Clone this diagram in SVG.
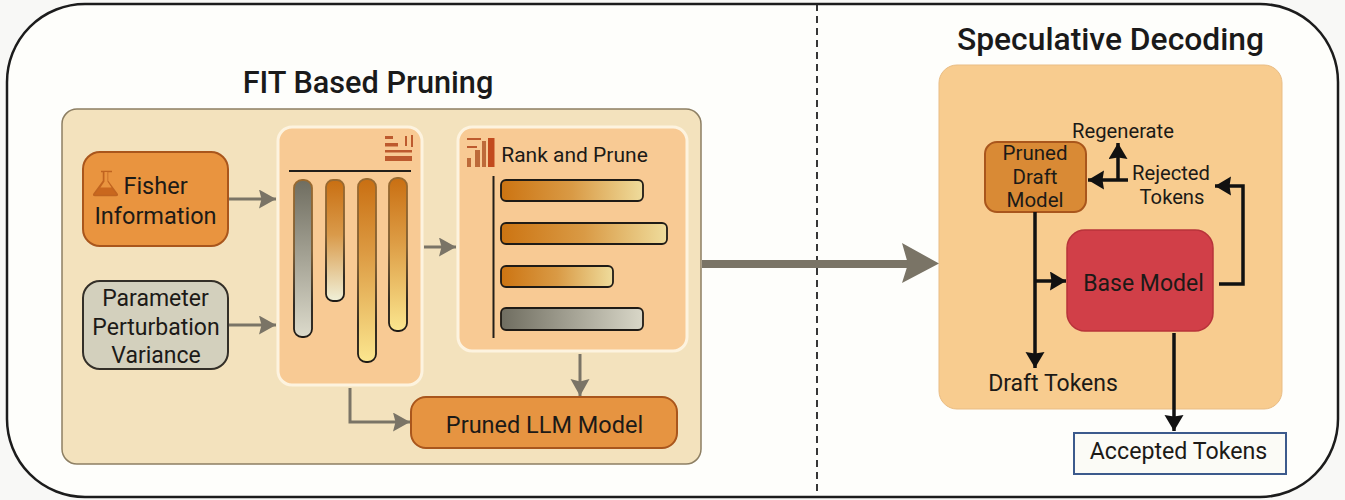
<svg xmlns="http://www.w3.org/2000/svg" width="1345" height="500" viewBox="0 0 1345 500">
<style>
text{font-family:Roboto,"Noto Sans","Liberation Sans",sans-serif;fill:#1c1a17;text-anchor:middle}
.title{font-weight:500;fill:#1a1a1a}
.t23{font-size:23px}
.t20{font-size:20.2px}
.g{fill:none;stroke:#7a7466;stroke-width:3}
.k{fill:none;stroke:#111;stroke-width:3.5}
.bar{stroke:#1f1b16;stroke-width:1.8}
.vbar{stroke:url(#vs);stroke-width:1.8}
.inner{fill:#f8ca94;stroke:#fdf3df;stroke-width:3}
</style>
<defs>
<linearGradient id="vs" x1="0" x2="0" y1="0" y2="1"><stop offset="0" stop-color="#9a6a30"/><stop offset="0.45" stop-color="#7a5a30"/><stop offset="0.8" stop-color="#1f1b16"/></linearGradient>
<linearGradient id="vo1" x1="0" x2="0" y1="0" y2="1"><stop offset="0" stop-color="#c96f12"/><stop offset="0.45" stop-color="#d99a4a"/><stop offset="1" stop-color="#f0f0d8"/></linearGradient>
<linearGradient id="vo2" x1="0" x2="0" y1="0" y2="1"><stop offset="0" stop-color="#c96f12"/><stop offset="0.4" stop-color="#dc9a42"/><stop offset="1" stop-color="#fbe68f"/></linearGradient>
<linearGradient id="vg" x1="0" x2="0" y1="0" y2="1"><stop offset="0" stop-color="#6f6d60"/><stop offset="1" stop-color="#dcdacb"/></linearGradient>
<linearGradient id="ho" x1="0" x2="1" y1="0" y2="0"><stop offset="0" stop-color="#cc7412"/><stop offset="0.5" stop-color="#d99a45"/><stop offset="1" stop-color="#efdc9c"/></linearGradient>
<linearGradient id="hg" x1="0" x2="1" y1="0" y2="0"><stop offset="0" stop-color="#6f6d60"/><stop offset="1" stop-color="#d9d7c8"/></linearGradient>
<marker id="ga" markerUnits="userSpaceOnUse" markerWidth="18" markerHeight="20" refX="17" refY="9.5" orient="auto"><path d="M0 0L17 9.5L0 19L2.500 9.5Z" fill="#7a7466"/></marker>
<marker id="ka" markerUnits="userSpaceOnUse" markerWidth="18" markerHeight="20" refX="16" refY="9.500" orient="auto"><path d="M0 0L16 9.500L0 19L1.500 9.500Z" fill="#111"/></marker>
</defs>
<rect width="1345" height="500" fill="#f8f8f6"/>
<rect x="7" y="4" width="1331" height="493" rx="78" fill="#fefefb" stroke="#1c1c1c" stroke-width="2.500"/>
<line x1="817" y1="4" x2="817" y2="496" stroke="#222" stroke-width="1.800" stroke-dasharray="7 5"/>
<text class="title" x="368" y="93" style="font-size:30.7px">FIT Based Pruning</text>
<text class="title" x="1110.500" y="50" style="font-size:31.800px">Speculative Decoding</text>

<g id="fit-panel"><rect x="62" y="109" width="639" height="355" rx="15" fill="#f3e2bd" stroke="#8d7f63" stroke-width="1.500"/></g>

<g id="fisher">
<rect x="83" y="152" width="145" height="94" rx="17" fill="#e9943f" stroke="#a9561c" stroke-width="2"/>
<path d="M101 171.500h11M103.500 172v9L94 194q-1 1.500 1 1.500h21q2 0 1-1.500l-9.500-13v-9" fill="#c9671e" stroke="#c06420" stroke-width="1.500"/>
<path d="M104.500 172v9.500l-4 6h11l-4-6V172z" fill="#e9943f"/>
<text class="t23" style="font-size:23.500px" x="155.500" y="194">Fisher</text>
<text class="t23" style="font-size:23.500px" x="155.500" y="224">Information</text>
</g>
<g id="variance">
<rect x="83" y="281" width="145" height="88" rx="17" fill="#d3d0bd" stroke="#332f28" stroke-width="2"/>
<text class="t23" x="155.500" y="306">Parameter</text>
<text class="t23" x="156" y="335">Perturbation</text>
<text class="t23" x="156" y="363">Variance</text>
</g>
<g id="bars-panel">
<rect class="inner" x="278" y="127" width="144" height="258" rx="14"/>
<line x1="289" y1="171" x2="411" y2="171" stroke="#221e19" stroke-width="2"/>
<path d="M385 136h8v3h-8zM385 143h13v3.500h-13zM385 150h27v2.500h-27zM385 156h27v5h-27z" fill="#bd5a2e"/>
<path d="M405 136h2v10h-2zM411 135h2v12h-2z" fill="#bd5a2e"/>
<rect class="vbar" x="294" y="180" width="18" height="157" rx="8" fill="url(#vg)"/>
<rect class="vbar" x="326" y="180" width="18" height="121" rx="7" fill="url(#vo1)"/>
<rect class="vbar" x="358" y="179" width="18" height="183" rx="8" fill="url(#vo2)"/>
<rect class="vbar" x="389" y="178" width="18" height="153" rx="8" fill="url(#vo2)"/>
</g>
<g id="rank-panel">
<rect class="inner" x="458" y="127" width="229" height="224" rx="14"/>
<path d="M467 138h14v2h-14zM467 146h10v2h-10z" fill="#bd5a2e"/>
<path d="M467 158h4v9h-4zM475 150h5v17h-5zM482 141h4v26h-4z" fill="#bd6a3a"/>
<path d="M488 138h6.500v29H488z" fill="#c24a1e"/>
<text x="574.500" y="162" style="font-size:21px">Rank and Prune</text>
<line x1="493.500" y1="176" x2="493.500" y2="338" stroke="#221e19" stroke-width="2"/>
<rect class="bar" x="501" y="180" width="142" height="21" rx="5" fill="url(#ho)"/>
<rect class="bar" x="501" y="223" width="166" height="21" rx="5" fill="url(#ho)"/>
<rect class="bar" x="501" y="266" width="112" height="21" rx="5" fill="url(#ho)"/>
<rect class="bar" x="501" y="308" width="142" height="22" rx="5" fill="url(#hg)"/>
</g>
<g id="pruned-llm">
<rect x="411" y="397" width="266" height="51" rx="15" fill="#e69441" stroke="#a9561c" stroke-width="2"/>
<text x="544.500" y="433" style="font-size:23.500px">Pruned LLM Model</text>
</g>

<g id="spec-panel"><rect x="939" y="65" width="343" height="344" rx="18" fill="#f8cc8f" stroke="#e9bd85" stroke-width="1"/></g>
<g id="draft-model">
<rect x="985" y="142" width="101" height="70" rx="12" fill="#d98a35" stroke="#a9561c" stroke-width="2"/>
<text x="1035" y="160" style="font-size:20.500px">Pruned</text>
<text x="1035" y="184" style="font-size:20.500px">Draft</text>
<text x="1035" y="207" style="font-size:20.500px">Model</text>
</g>
<g id="base-model">
<rect x="1067" y="230" width="146" height="101" rx="18" fill="#d13f48" stroke="#b8333a" stroke-width="1.500"/>
<text class="t23" x="1143.500" y="291">Base Model</text>
</g>
<g id="accepted">
<rect x="1074" y="433" width="212" height="41" fill="#fbfbf6" stroke="#3c5a8c" stroke-width="2"/>
<text x="1178.500" y="459" style="font-size:23.200px">Accepted Tokens</text>
</g>
<g id="labels">
<text class="t20" x="1123" y="138">Regenerate</text>
<text class="t20" x="1171" y="180">Rejected</text>
<text class="t20" x="1172" y="204">Tokens</text>
<text class="t23" x="1053" y="391">Draft Tokens</text>
</g>
<g id="connectors">
<path class="g" d="M229 199H276" marker-end="url(#ga)"/>
<path class="g" d="M229 325H276" marker-end="url(#ga)"/>
<path class="g" d="M424 247H456" marker-end="url(#ga)"/>
<path class="g" d="M580 354V396" marker-end="url(#ga)"/>
<path class="g" d="M350 388V422H410" marker-end="url(#ga)"/>
<path d="M702 264H910" fill="none" stroke="#7a7466" stroke-width="8"/>
<path d="M902 243L939 263.500L902 283L908 264Z" fill="#7a7466"/>
<path class="k" d="M1035 212V368" marker-end="url(#ka)"/>
<path class="k" d="M1035 281H1066" marker-end="url(#ka)"/>
<path class="k" d="M1128 180H1088" marker-end="url(#ka)"/>
<path class="k" d="M1118 180V143" marker-end="url(#ka)"/>
<path class="k" d="M1219 284H1243V186H1215" marker-end="url(#ka)"/>
<path class="k" d="M1174 333V431" marker-end="url(#ka)"/>
</g>
</svg>
